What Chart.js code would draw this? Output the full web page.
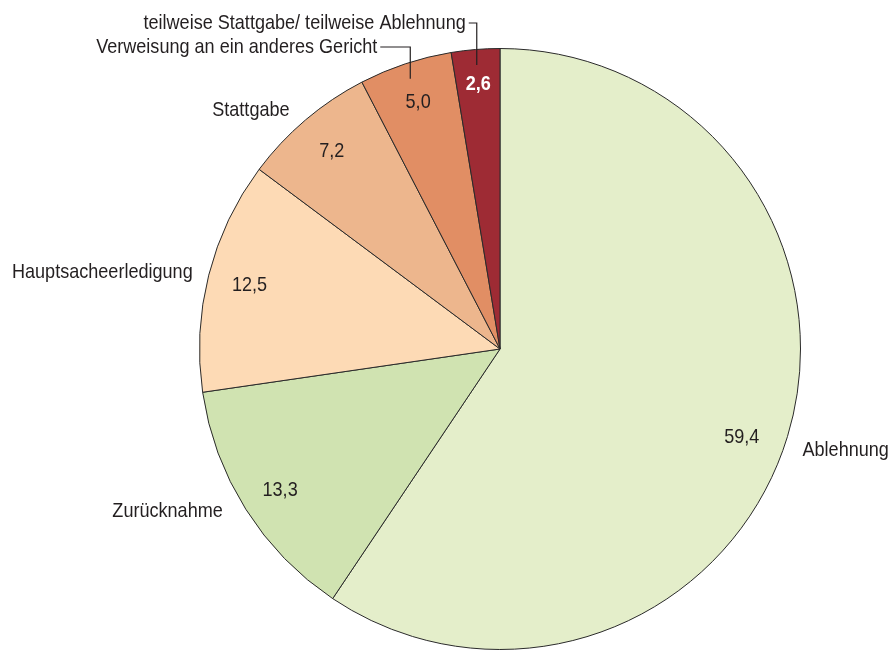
<!DOCTYPE html>
<html>
<head>
<meta charset="utf-8">
<script src="https://cdn.jsdelivr.net/npm/chart.js@4/dist/chart.umd.min.js"></script>
<style>
html,body{margin:0;padding:0;background:#fff;}
#wrap{width:891px;height:650px;position:relative;}
</style>
</head>
<body>
<div id="wrap"><canvas id="c" width="891" height="650"></canvas></div>
<script>
const categories = ["Ablehnung","Zurücknahme","Hauptsacheerledigung","Stattgabe","Verweisung an ein anderes Gericht","teilweise Stattgabe/ teilweise Ablehnung"];
const values = [59.4, 13.3, 12.5, 7.2, 5.0, 2.6];
const colors = ["#e4eeca","#d0e3b1","#fddab5","#edb68d","#e18e64","#9e2b34"];
const valueLabels = ["59,4","13,3","12,5","7,2","5,0","2,6"];

const FONT = '"Liberation Sans",Arial,sans-serif';
const FSIZE = 21;
const CONDENSE = 0.86;
const TXT = '#231f20';

// radial position of value labels (fraction of radius) and small pixel nudges
const valueRadius = [0.855, 0.865, 0.86, 0.865, 0.865, 0.885];
const valueNudge = [[-4,13],[0,3],[0,0],[0,0],[0,0],[0,0]];
// label layout (style): kind 'edge' = offset from outer edge at mid-angle; 'leader' = elbow line
const labelLayout = [
  {kind:'edge', dx:15, dy:14, align:'left'},
  {kind:'edge', dx:-23, dy:2, align:'right'},
  {kind:'edge', dx:-16, dy:-3, align:'right'},
  {kind:'edge', dx:-16, dy:-10, align:'right'},
  {kind:'leader', k:0.948, y:47, hx:-30, gap:3},
  {kind:'leader', k:0.948, y:23, hx:-8, gap:3}
];

function drawText(ctx, text, x, y, align, bold, color){
  ctx.save();
  ctx.translate(x, y);
  ctx.scale(CONDENSE, 1);
  ctx.font = (bold?'bold ':'') + FSIZE + 'px ' + FONT;
  ctx.fillStyle = color;
  ctx.textAlign = align;
  ctx.textBaseline = 'middle';
  ctx.fillText(text, 0, 0);
  ctx.restore();
}

const labelPlugin = {
  id:'labels',
  afterDatasetsDraw(chart){
    const ctx = chart.ctx;
    const meta = chart.getDatasetMeta(0);
    ctx.save();
    meta.data.forEach((arc,i)=>{
      const p = arc.getProps(['x','y','startAngle','endAngle','outerRadius'],true);
      const mid = (p.startAngle+p.endAngle)/2;
      const rv = p.outerRadius*valueRadius[i];
      const vx = p.x + Math.cos(mid)*rv + valueNudge[i][0];
      const vy = p.y + Math.sin(mid)*rv + valueNudge[i][1];
      const last = i===values.length-1;
      drawText(ctx, valueLabels[i], vx, vy, 'center', last, last ? '#ffffff' : TXT);
      const L = labelLayout[i];
      if(L.kind==='edge'){
        const ex = p.x + Math.cos(mid)*p.outerRadius, ey = p.y + Math.sin(mid)*p.outerRadius;
        drawText(ctx, categories[i], ex+L.dx, ey+L.dy, L.align, false, TXT);
      } else {
        const lx = p.x + Math.cos(mid)*p.outerRadius*L.k;
        const ly = p.y + Math.sin(mid)*p.outerRadius*L.k;
        ctx.strokeStyle = TXT; ctx.lineWidth = 1.2;
        ctx.beginPath();
        ctx.moveTo(lx, ly);
        ctx.lineTo(lx, L.y);
        ctx.lineTo(lx+L.hx, L.y);
        ctx.stroke();
        drawText(ctx, categories[i], lx+L.hx-L.gap, L.y, 'right', false, TXT);
      }
    });
    ctx.restore();
  }
};

new Chart(document.getElementById('c'), {
  type:'pie',
  data:{
    labels:categories,
    datasets:[{
      data:values,
      backgroundColor:colors,
      borderColor:'#2a2a2a',
      borderWidth:1
    }]
  },
  options:{
    responsive:false,
    animation:false,
    layout:{padding:{left:198,right:89,top:48,bottom:0}},
    plugins:{legend:{display:false},tooltip:{enabled:false}}
  },
  plugins:[labelPlugin]
});
</script>
</body>
</html>
